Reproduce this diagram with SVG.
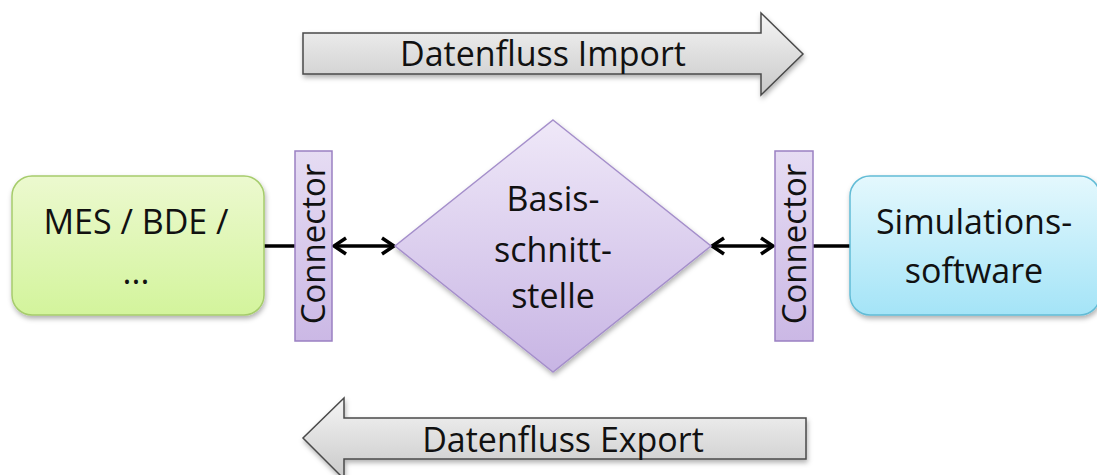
<svg xmlns="http://www.w3.org/2000/svg" width="1097" height="475" viewBox="0 0 1097 475">
  <defs>
    <linearGradient id="gGray" x1="0" y1="0" x2="0" y2="1">
      <stop offset="0" stop-color="#f5f5f5"/>
      <stop offset="1" stop-color="#c9c9c9"/>
    </linearGradient>
    <linearGradient id="gGreen" x1="0" y1="0" x2="0" y2="1">
      <stop offset="0" stop-color="#ecf9cf"/>
      <stop offset="1" stop-color="#d3f49c"/>
    </linearGradient>
    <linearGradient id="gBlue" x1="0" y1="0" x2="0" y2="1">
      <stop offset="0" stop-color="#e4f8fd"/>
      <stop offset="1" stop-color="#a4e4f7"/>
    </linearGradient>
    <linearGradient id="gPurple" x1="0" y1="0" x2="0" y2="1">
      <stop offset="0" stop-color="#efe8f8"/>
      <stop offset="1" stop-color="#c8b5e4"/>
    </linearGradient>
    <linearGradient id="gConn" x1="0" y1="0" x2="0" y2="1">
      <stop offset="0" stop-color="#e6dcf3"/>
      <stop offset="1" stop-color="#cbb8e5"/>
    </linearGradient>
    <filter id="shadow" x="-10%" y="-10%" width="120%" height="130%">
      <feDropShadow dx="1" dy="3" stdDeviation="2.5" flood-color="#000" flood-opacity="0.3"/>
    </filter>
    <marker id="head" viewBox="0 0 16 20" refX="14" refY="10" markerWidth="16" markerHeight="20" markerUnits="userSpaceOnUse" orient="auto-start-reverse">
      <polyline points="2,2 14,10 2,18" fill="none" stroke="#000" stroke-width="3.5"/>
    </marker>
    <style>
      text { font-family: "Open Sans", "Liberation Sans", sans-serif; fill: #111; text-anchor: middle; }
      .big { font-size: 34px; }
      .rot { font-size: 33px; }
      .flow { fill: url(#gGray); stroke: #4a4a4a; stroke-width: 1.5; filter: url(#shadow); }
      .conn { fill: url(#gConn); stroke: #9a80c2; stroke-width: 1.5; }
      .link { stroke: #000; stroke-width: 3.5; fill: none; }
    </style>
  </defs>

  <!-- data flow arrows -->
  <g id="import">
    <path class="flow" d="M303,33 H761 V13 L803,54 L761,95 V74 H303 Z"/>
    <text class="big" x="543" y="66">Datenfluss Import</text>
  </g>
  <g id="export">
    <path class="flow" d="M806,418 H344 V398 L303,438 L344,479 V459 H806 Z"/>
    <text class="big" x="563" y="452">Datenfluss Export</text>
  </g>

  <!-- connectors -->
  <g id="connectors">
    <line class="link" x1="264" y1="246" x2="295" y2="246"/>
    <line class="link" x1="334" y1="246" x2="394" y2="246" marker-start="url(#head)" marker-end="url(#head)"/>
    <line class="link" x1="712" y1="246" x2="773" y2="246" marker-start="url(#head)" marker-end="url(#head)"/>
    <line class="link" x1="813" y1="246" x2="851" y2="246"/>
  </g>

  <g id="mes">
    <rect x="12" y="176" width="252" height="139" rx="20" fill="url(#gGreen)" stroke="#a6cc6c" stroke-width="1.5" filter="url(#shadow)"/>
    <text class="big" x="136" y="234">MES / BDE /</text>
    <text class="big" x="136" y="284">...</text>
  </g>

  <g id="connector-left">
    <rect class="conn" x="295" y="151" width="37" height="190"/>
    <text class="rot" transform="translate(325,244) rotate(-90)" x="0" y="0">Connector</text>
  </g>

  <g id="basis">
    <polygon points="553,120 711,246 553,372 395,246" fill="url(#gPurple)" stroke="#a58fcb" stroke-width="1.5" filter="url(#shadow)"/>
    <text class="big" x="553" y="211">Basis-</text>
    <text class="big" x="553" y="262">schnitt-</text>
    <text class="big" x="553" y="308">stelle</text>
  </g>

  <g id="connector-right">
    <rect class="conn" x="775" y="151" width="38" height="190"/>
    <text class="rot" transform="translate(806,244) rotate(-90)" x="0" y="0">Connector</text>
  </g>

  <g id="sim">
    <rect x="850" y="176" width="250" height="139" rx="20" fill="url(#gBlue)" stroke="#62bcd6" stroke-width="1.5" filter="url(#shadow)"/>
    <text class="big" x="974" y="234">Simulations-</text>
    <text class="big" x="974" y="283">software</text>
  </g>
</svg>
